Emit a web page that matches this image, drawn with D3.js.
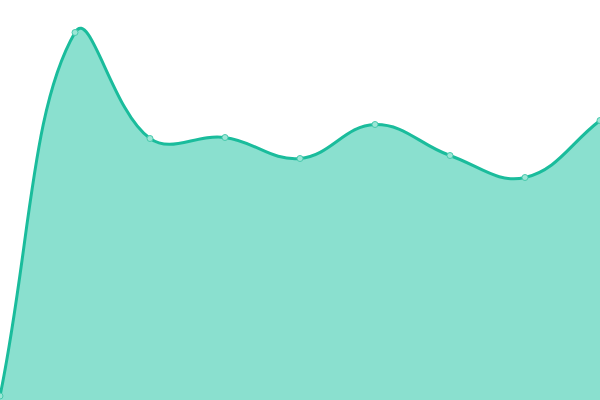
<!DOCTYPE html>
<html>
<head>
<meta charset="utf-8">
<script src="https://cdn.jsdelivr.net/npm/d3@7"></script>
<style>
  html, body { margin: 0; padding: 0; background: #fff; }
  #svg-container { width: 600px; height: 400px; }
</style>
</head>
<body>
<div id="svg-container"></div>
<script>
// data
const labels = [0, 1, 2, 3, 4, 5, 6, 7, 8];
const values = [4, 367.5, 261.5, 262.5, 241.5, 275.5, 244.5, 222.5, 279.5];

const width = 600;
const height = 400;
const tension = 0.4;

const svg = d3.select("#svg-container").append("svg")
  .attr("width", width)
  .attr("height", height);

// scale
const xScale = d3.scaleLinear().domain(d3.extent(labels)).range([0, width]);
const yScale = d3.scaleLinear().domain([0, 400]).range([height, 0]);

const pts = labels.map((l, i) => ({ x: xScale(l), y: yScale(values[i]) }));

// spline control points (distance weighted, like a tension 0.4 spline)
const dist = (a, b) => Math.hypot(a.x - b.x, a.y - b.y);
const ctrl = pts.map((cur, i) => {
  const prev = i > 0 ? pts[i - 1] : cur;
  const next = i < pts.length - 1 ? pts[i + 1] : cur;
  const d01 = dist(cur, prev);
  const d12 = dist(next, cur);
  const s01 = d01 / (d01 + d12) || 0;
  const s12 = d12 / (d01 + d12) || 0;
  const fa = tension * s01;
  const fb = tension * s12;
  const clampX = (v) => Math.max(0, Math.min(width, v));
  const clampY = (v) => Math.max(0, Math.min(height, v));
  return {
    prev: { x: clampX(cur.x - fa * (next.x - prev.x)), y: clampY(cur.y - fa * (next.y - prev.y)) },
    next: { x: clampX(cur.x + fb * (next.x - prev.x)), y: clampY(cur.y + fb * (next.y - prev.y)) }
  };
});

function splinePath(p) {
  p.moveTo(pts[0].x, pts[0].y);
  for (let i = 1; i < pts.length; i++) {
    const c1 = ctrl[i - 1].next;
    const c2 = ctrl[i].prev;
    p.bezierCurveTo(c1.x, c1.y, c2.x, c2.y, pts[i].x, pts[i].y);
  }
  return p;
}

const areaPath = splinePath(d3.path());
areaPath.lineTo(pts[pts.length - 1].x, yScale(0));
areaPath.lineTo(pts[0].x, yScale(0));
areaPath.closePath();

svg.append("path")
  .attr("d", areaPath.toString())
  .attr("fill", "#8ae0cf");

svg.append("path")
  .attr("d", splinePath(d3.path()).toString())
  .attr("fill", "none")
  .attr("stroke", "#1abc9c")
  .attr("stroke-width", 3);

svg.selectAll("circle")
  .data(pts)
  .join("circle")
  .attr("cx", (d) => d.x)
  .attr("cy", (d) => d.y)
  .attr("r", 3)
  .attr("fill", "#9ce6d6")
  .attr("stroke", "#48c9ad")
  .attr("stroke-width", 1);
</script>
</body>
</html>
